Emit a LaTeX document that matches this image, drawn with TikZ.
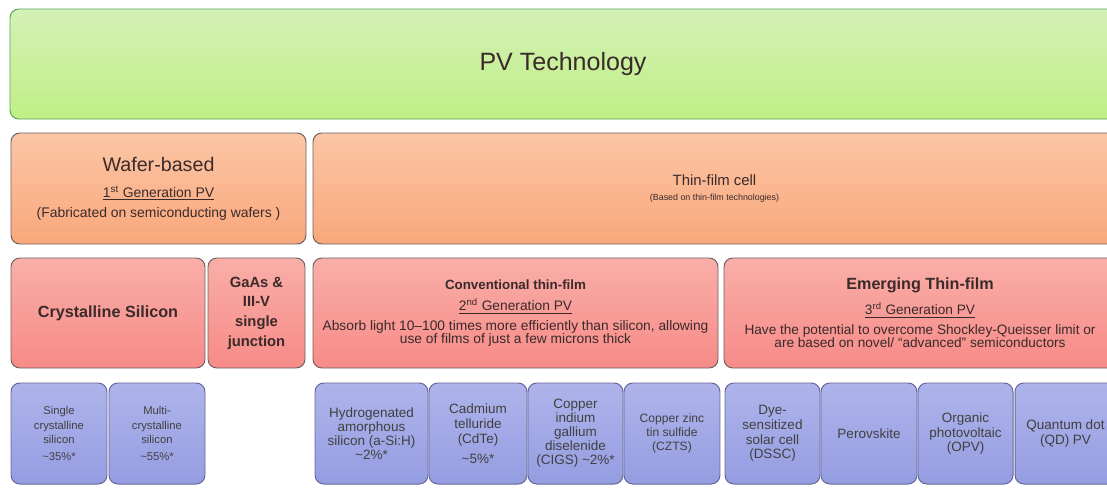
\documentclass[tikz,border=0pt]{standalone}
\usepackage{fontspec}
\setmainfont{Liberation Sans}
\usepackage{tikz}
\definecolor{greentop}{HTML}{D4F1B6}
\definecolor{greenbot}{HTML}{BFEF86}
\definecolor{orangetop}{HTML}{FCC6A6}
\definecolor{orangebot}{HTML}{F9A77B}
\definecolor{redtop}{HTML}{F9AEA8}
\definecolor{redbot}{HTML}{F78B88}
\definecolor{bluetop}{HTML}{AEB4EA}
\definecolor{bluebot}{HTML}{959DE2}
\definecolor{edgegray}{HTML}{6E6262}
\definecolor{inktext}{HTML}{3A2A2A}
\newcommand{\fs}[2]{\fontsize{#1}{#2}\selectfont}
\tikzset{box at/.style n args={4}{at={({(#1+#3)/2},{(#2+#4)/2})},
		minimum width={(#3-#1)*0.025cm},minimum height={(#4-#2)*0.025cm}},
	cell/.style={draw=edgegray,line width=0.7pt,rounded corners=2.2mm,
		inner sep=0pt,align=center,text=inktext},
	greencell/.style={cell,draw=gray!70!green,top color=greentop,bottom color=greenbot},
	orangecell/.style={cell,top color=orangetop,bottom color=orangebot},
	redcell/.style={cell,top color=redtop,bottom color=redbot},
	bluecell/.style={cell,draw=gray!80!blue,top color=bluetop,bottom color=bluebot,
		text=black!75,font=\fs{9.6}{10}}}

\begin{document}
\begin{tikzpicture}[x=0.025cm,y=-0.025cm]
\clip (0,0) rectangle (1107,495);
\fill[white] (0,0) rectangle (1107,495);
% top level
\node[greencell,box at={10}{9}{1116}{119},font=\fs{17.8}{20}] (pv) {PV Technology};
% wafer or thin film
\node[orangecell,box at={11}{133}{306}{244},font=\fs{9.9}{14}] (wafer)
  {{\fs{14}{14}Wafer-based}\\[4.5pt]
   \underline{1\textsuperscript{st} Generation PV}\\
   (Fabricated on semiconducting wafers )};
\node[orangecell,box at={313}{133}{1116}{244},font=\fs{6.3}{10}] (thin)
  {{\fs{10.6}{10}Thin-film cell}\\
   (Based on thin-film technologies)};
% material families
\node[redcell,box at={11}{258}{205}{368},font=\bfseries\fs{11.5}{13}] (crys) {Crystalline Silicon};
\node[redcell,box at={208}{258}{305}{368},font=\bfseries\fs{10.5}{14}] (gaas)
  {GaAs \&\\III-V\\single\\junction};
\node[redcell,box at={313}{258}{718}{368},font=\fs{9.8}{9.4}] (conv)
  {{\bfseries\fs{9.5}{9.4}Conventional thin-film}\\[6pt]
   \underline{2\textsuperscript{nd} Generation PV}\\[4.6pt]
   Absorb light 10--100 times more efficiently than silicon, allowing\\
   use of films of just a few microns thick};
\node[redcell,box at={724}{258}{1116}{368},font=\fs{9.7}{9.4}] (emerg)
  {{\bfseries\fs{11.5}{9.4}Emerging Thin-film}\\[6pt]
   \underline{3\textsuperscript{rd} Generation PV}\\[4.6pt]
   Have the potential to overcome Shockley-Queisser limit or\\
   are based on novel/ ``advanced'' semiconductors};
% individual technologies
\node[bluecell,box at={11}{383}{107}{484},font=\fs{8}{10.3}] (single)
  {Single\\crystalline\\silicon\\[1.2pt]\textasciitilde35\%*};
\node[bluecell,box at={109}{383}{205}{484},font=\fs{8}{10.3}] (multi)
  {Multi-\\crystalline\\silicon\\[1.2pt]\textasciitilde55\%*};
\node[bluecell,box at={315}{383}{428}{484}] (asi)
  {Hydrogenated\\amorphous\\silicon (a-Si:H)\\\textasciitilde2\%*};
\node[bluecell,box at={429}{383}{527}{484},font=\fs{9.6}{10.7}] (cdte)
  {Cadmium\\telluride\\(CdTe)\\[3pt]\textasciitilde5\%*};
\node[bluecell,box at={528}{383}{623}{484}] (cigs)
  {Copper\\indium\\gallium\\diselenide\\(CIGS) \textasciitilde2\%*};
\node[bluecell,box at={624}{383}{720}{484},font=\fs{8.6}{10}] (czts)
  {Copper zinc\\tin sulfide\\(CZTS)};
\node[bluecell,box at={725}{383}{820}{484},font=\fs{9.6}{10.5}] (dssc)
  {Dye-\\sensitized\\solar cell\\(DSSC)};
\node[bluecell,box at={821}{383}{917}{484}] (perov) {Perovskite};
\node[bluecell,box at={918}{383}{1013}{484}] (opv)
  {Organic\\photovoltaic\\(OPV)};
\node[bluecell,box at={1015}{383}{1116}{484}] (qd)
  {Quantum dot\\(QD) PV};
\end{tikzpicture}
\end{document}
